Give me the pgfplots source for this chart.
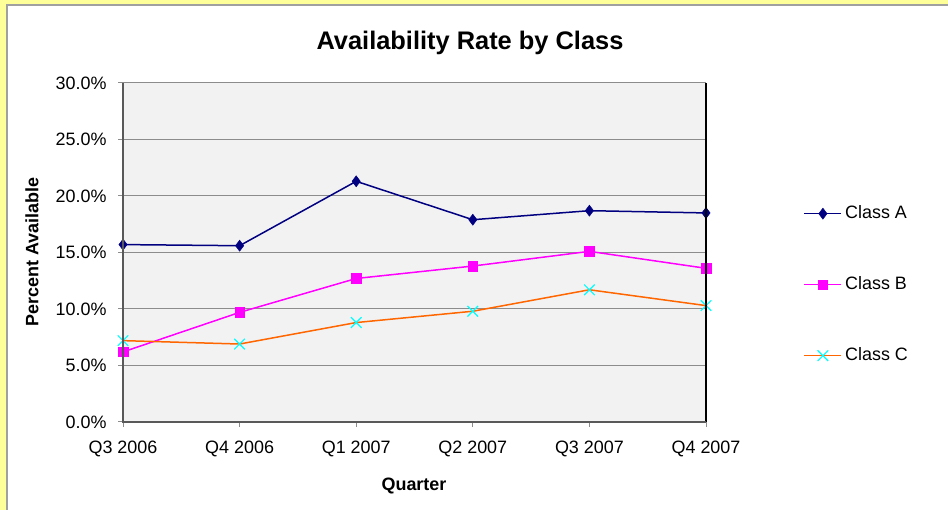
\documentclass[border=0pt]{standalone}
\usepackage{pgfplots}
\pgfplotsset{compat=1.18}
\usepackage{fontspec}
\setmainfont{Liberation Sans}
\definecolor{frameyellow}{HTML}{FFFF99}
\definecolor{framegray}{HTML}{A0A0A0}
\definecolor{plotbg}{HTML}{F2F2F2}
\definecolor{gridgray}{HTML}{8C8C8C}
\definecolor{axisgray}{HTML}{595959}
\definecolor{classA}{HTML}{000080}
\definecolor{classB}{HTML}{FF00FF}
\definecolor{classC}{HTML}{FF6600}
\definecolor{markC}{HTML}{00FFFF}
\begin{document}
\begin{tikzpicture}[x=1bp,y=1bp]
\useasboundingbox (0,0) rectangle (948,510);
\fill[frameyellow] (0,0) rectangle (948,510);
\fill[white] (7,0) rectangle (948,505);
\draw[framegray, line width=2bp] (7,0) -- (7,505) -- (948,505);
\node[font=\fontsize{25.5}{30}\selectfont\bfseries] at (470,467) {Availability Rate by Class};
\node[font=\fontsize{18}{21}\selectfont\bfseries, rotate=90] at (32,258) {Percent Available};
\node[font=\fontsize{18}{21}\selectfont\bfseries] at (414,24) {Quarter};
\begin{axis}[
  at={(123bp,88bp)}, anchor=south west,
  scale only axis, width=583bp, height=339bp,
  xmin=0, xmax=5, ymin=0, ymax=30,
  xtick={0,1,2,3,4,5},
  xticklabels={Q3 2006,Q4 2006,Q1 2007,Q2 2007,Q3 2007,Q4 2007},
  ytick={0,5,10,15,20,25,30},
  yticklabels={0.0\%,5.0\%,10.0\%,15.0\%,20.0\%,25.0\%,30.0\%},
  xtick pos=bottom, ytick pos=left,
  tick align=outside, major tick length=5bp,
  tick style={draw=gridgray, line width=1bp},
  ymajorgrids, grid style={draw=gridgray, line width=1bp},
  axis background/.style={fill=plotbg},
  axis line style={draw=none},
  tick label style={font=\fontsize{18}{21}\selectfont},
  xticklabel style={yshift=-10bp},
  yticklabel style={xshift=-8bp},
  /pgf/number format/assume math mode=true,
  clip=false,
  legend style={draw=none, fill=none, at={(1.162,0.405)}, anchor=west,
    font=\fontsize{18}{21}\selectfont, row sep=54bp,
    nodes={inner sep=0pt, text height=13bp, text depth=4bp}},
  legend cell align=left,
  legend image code/.code={\draw[mark repeat=2,mark phase=2,#1] plot coordinates {(0bp,0bp) (18.5bp,0bp) (37bp,0bp)}; \path (40bp,0bp);},
  after end axis/.code={
    \draw[gridgray, line width=1bp] (rel axis cs:0,1) -- (rel axis cs:1,1);
    \draw[black, line width=1.5bp] (rel axis cs:1,0) -- (rel axis cs:1,1);
    \draw[axisgray, line width=2bp] (rel axis cs:0,1) -- (rel axis cs:0,0) -- (rel axis cs:1,0);
  },
]
\addplot[classA, line width=1.5bp, mark=diamond*, mark size=5.5bp, mark options={fill=classA, draw=classA, line width=0.5bp}]
  coordinates {(0,15.7) (1,15.6) (2,21.3) (3,17.9) (4,18.7) (5,18.5)};
\addlegendentry{Class A}
\addplot[classB, line width=1.5bp, mark=square*, mark size=4.8bp, mark options={fill=classB, draw=classB, line width=0.5bp}]
  coordinates {(0,6.2) (1,9.7) (2,12.7) (3,13.8) (4,15.1) (5,13.6)};
\addlegendentry{Class B}
\addplot[classC, line width=1.5bp, mark=x, mark size=7.5bp, mark options={draw=markC, line width=1.2bp}]
  coordinates {(0,7.2) (1,6.9) (2,8.8) (3,9.8) (4,11.7) (5,10.3)};
\addlegendentry{Class C}
\end{axis}
\end{tikzpicture}
\end{document}
